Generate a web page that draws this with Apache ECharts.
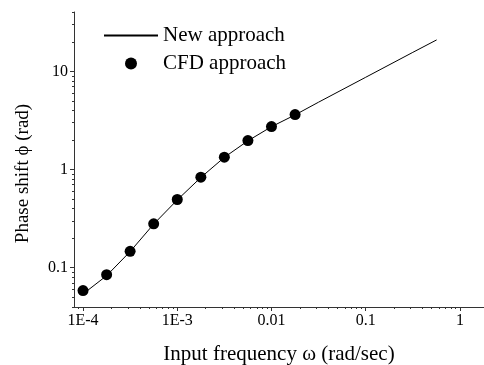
<!DOCTYPE html>
<html>
<head>
<meta charset="utf-8">
<script src="https://cdn.jsdelivr.net/npm/echarts@6/dist/echarts.min.js"></script>
<style>
html, body { margin: 0; padding: 0; background: #fff; }
#main { width: 484px; height: 365px; }
</style>
</head>
<body>
<div id="main"></div>
<script>
// CFD points
var cfdX = [1e-4, 1.78e-4, 3.16e-4, 5.62e-4, 1e-3, 1.78e-3, 3.16e-3, 5.62e-3, 1e-2, 1.78e-2];
var cfdY = [0.0585, 0.085, 0.147, 0.28, 0.495, 0.835, 1.335, 1.97, 2.74, 3.63];
// new approach curve
var lineX = [1e-4, 1.78e-4, 3.16e-4, 5.62e-4, 1e-3, 1.78e-3, 3.16e-3, 5.62e-3, 1e-2, 1.78e-2, 3.16e-2, 0.1, 0.316, 0.566];
var lineY = [0.054, 0.083, 0.146, 0.278, 0.49, 0.83, 1.33, 1.96, 2.73, 3.6, 4.85, 8.7, 15.6, 20.9];
// tick labels
var xTickVals = [1e-4, 1e-3, 1e-2, 0.1, 1];
var xTickLabels = ['1E-4', '1E-3', '0.01', '0.1', '1'];
var yTickVals = [0.1, 1, 10];
var yTickLabels = ['0.1', '1', '10'];

var xMin = 8.02e-5, xMax = 1.8;
var yMin = 0.0398, yMax = 40.2;

function minorTicks(lo, hi) {
	var out = [];
	for (var d = -5; d <= 2; d++) {
		for (var m = 2; m <= 9; m++) {
			var v = m * Math.pow(10, d);
			if (v >= lo && v <= hi) out.push(v);
		}
	}
	return out;
}

function pairs(xs, ys) {
	var r = [];
	for (var i = 0; i < xs.length; i++) r.push([xs[i], ys[i]]);
	return r;
}

function labelOf(vals, labels) {
	return function(v) {
		for (var i = 0; i < vals.length; i++) {
			if (Math.abs(Math.log10(v) - Math.log10(vals[i])) < 1e-6) return labels[i];
		}
		return '';
	};
}

var font = 'Liberation Serif';
var axisCol = '#333';

var chart = echarts.init(document.getElementById('main'));
var option = {
	animation: false,
	grid: { left: 74, right: 0, top: 12, bottom: 58, outerBoundsMode: 'none', containLabel: false },
	legend: {
		orient: 'vertical',
		left: 98,
		top: 20,
		itemWidth: 54,
		itemHeight: 12,
		itemGap: 7,
		textStyle: { fontFamily: font, fontSize: 21, color: '#000' },
		data: [
			{ name: 'New approach', itemStyle: { opacity: 0 } },
			{ name: 'CFD approach' }
		]
	},
	xAxis: [{
		type: 'log',
		logBase: 10,
		min: xMin,
		max: xMax,
		name: 'Input frequency ω (rad/sec)',
		nameLocation: 'middle',
		nameGap: 37,
		nameTextStyle: { fontFamily: font, fontSize: 21, color: '#000' },
		axisLine: { lineStyle: { color: axisCol, width: 1 } },
		axisTick: { show: true, length: 4, customValues: xTickVals, lineStyle: { color: axisCol } },
		axisLabel: {
			customValues: xTickVals,
			formatter: labelOf(xTickVals, xTickLabels),
			fontFamily: font, fontSize: 16, color: '#000', margin: 6
		},
		splitLine: { show: false }
	}, {
		type: 'log',
		logBase: 10,
		min: xMin,
		max: xMax,
		position: 'bottom',
		axisLine: { show: false },
		axisTick: { show: true, length: 2, customValues: minorTicks(xMin, xMax), lineStyle: { color: axisCol } },
		axisLabel: { show: false },
		splitLine: { show: false }
	}],
	yAxis: [{
		type: 'log',
		logBase: 10,
		min: yMin,
		max: yMax,
		name: 'Phase shift ϕ (rad)',
		nameLocation: 'middle',
		nameGap: 41,
		nameTextStyle: { fontFamily: font, fontSize: 19, color: '#000', padding: [0, 28, 0, 0] },
		axisLine: { show: true, lineStyle: { color: axisCol, width: 1 } },
		axisTick: { show: true, length: 4, customValues: yTickVals, lineStyle: { color: axisCol } },
		axisLabel: {
			customValues: yTickVals,
			formatter: labelOf(yTickVals, yTickLabels),
			fontFamily: font, fontSize: 16, color: '#000', margin: 6
		},
		splitLine: { show: false }
	}, {
		type: 'log',
		logBase: 10,
		min: yMin,
		max: yMax,
		position: 'left',
		axisLine: { show: false },
		axisTick: { show: true, length: 2, customValues: minorTicks(yMin, yMax), lineStyle: { color: axisCol } },
		axisLabel: { show: false },
		splitLine: { show: false }
	}],
	series: [{
		name: 'New approach',
		type: 'line',
		symbol: 'none',
		lineStyle: { color: '#000', width: 1 },
		itemStyle: { color: '#000' },
		data: pairs(lineX, lineY),
		z: 2
	}, {
		name: 'CFD approach',
		type: 'scatter',
		symbol: 'circle',
		symbolSize: 11,
		itemStyle: { color: '#000', opacity: 1 },
		data: pairs(cfdX, cfdY),
		z: 3
	}]
};
chart.setOption(option);
</script>
</body>
</html>
